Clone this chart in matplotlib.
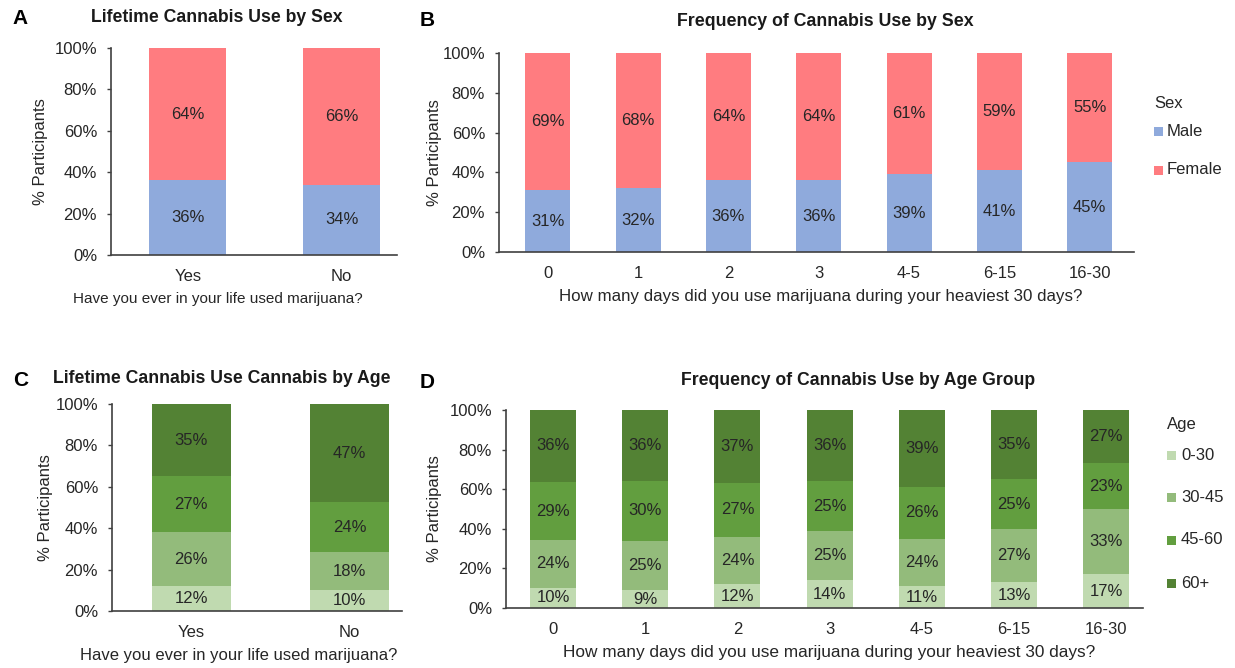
import matplotlib
matplotlib.use("Agg")
import matplotlib.pyplot as plt
from matplotlib.patches import Rectangle
import numpy as np

plt.rcParams['font.family'] = ['Liberation Sans', 'DejaVu Sans']

W, H = 1235, 668

# ---- data ----
lifetime_cats = ["Yes", "No"]
freq_cats = ["0", "1", "2", "3", "4-5", "6-15", "16-30"]

sex_groups = ["Male", "Female"]
sex_colors = ["#8faadc", "#ff7c80"]
lifetime_male = [36, 34]
lifetime_female = [64, 66]
freq_male = [31, 32, 36, 36, 39, 41, 45]
freq_female = [69, 68, 64, 64, 61, 59, 55]

age_groups = ["0-30", "30-45", "45-60", "60+"]
age_colors = ["#c0dab0", "#93bb7b", "#629e3f", "#538234"]
lifetime_age_0_30 = [12, 10]
lifetime_age_30_45 = [26, 18]
lifetime_age_45_60 = [27, 24]
lifetime_age_60p = [35, 47]
freq_age_0_30 = [10, 9, 12, 14, 11, 13, 17]
freq_age_30_45 = [24, 25, 24, 25, 24, 27, 33]
freq_age_45_60 = [29, 30, 27, 25, 26, 25, 23]
freq_age_60p = [36, 36, 37, 36, 39, 35, 27]

yticks = [0, 20, 40, 60, 80, 100]
ytick_labels = ["0%", "20%", "40%", "60%", "80%", "100%"]

FS = 12
TXT = "#262626"
AX = "#404040"

fig = plt.figure(figsize=(W / 100, H / 100), dpi=100)


def add_axes_px(left, top, right, bottom):
    return fig.add_axes([left / W, 1 - bottom / H, (right - left) / W, (bottom - top) / H])


def fig_text(x, y, s, **kw):
    fig.text(x / W, 1 - y / H, s, **kw)


def stacked(ax, cats, series, colors, xlim):
    x = np.arange(len(cats))
    data = np.array(series, dtype=float)
    totals = data.sum(axis=0)
    shares = data / totals * 100.0
    bottom = np.zeros(len(cats))
    for vals, share, col in zip(data, shares, colors):
        ax.bar(x, share, width=0.5, bottom=bottom, color=col, edgecolor="none")
        for xi, b, s, v in zip(x, bottom, share, vals):
            ax.text(xi, b + s / 2, f"{int(v)}%", ha="center", va="center",
                    fontsize=FS, color=TXT)
        bottom += share
    ax.set_xlim(*xlim)
    ax.set_ylim(0, 100)
    ax.set_xticks(x)
    ax.set_xticklabels(cats)
    ax.set_yticks(yticks)
    ax.set_yticklabels(ytick_labels)
    for sp in ("top", "right"):
        ax.spines[sp].set_visible(False)
    for sp in ("left", "bottom"):
        ax.spines[sp].set_color(AX)
        ax.spines[sp].set_linewidth(1.2)
    ax.tick_params(axis="x", length=0, pad=10, labelsize=FS, colors=TXT)
    ax.tick_params(axis="y", length=3, width=1, pad=7, labelsize=FS,
                   colors=AX, labelcolor=TXT)
    ax.set_ylabel("% Participants", fontsize=FS, color=TXT)


def legend_px(x_box, x_text, y_title, ys, title, labels, colors):
    fig_text(x_box, y_title, title, fontsize=FS, color=TXT, va="center", ha="left")
    for y, lab, col in zip(ys, labels, colors):
        fig.patches.append(Rectangle(((x_box) / W, 1 - (y + 4.5) / H), 9 / W, 9 / H,
                                     transform=fig.transFigure, facecolor=col,
                                     edgecolor="none"))
        fig_text(x_text, y, lab, fontsize=FS, color=TXT, va="center", ha="left")


# ---- A ----
axA = add_axes_px(111, 48, 397, 255)
stacked(axA, lifetime_cats, [lifetime_male, lifetime_female], sex_colors, (-0.5, 1.36))
axA.set_xlabel("Have you ever in your life used marijuana?", fontsize=11, color=TXT, labelpad=6)
axA.xaxis.label.set_x(0.374)
axA.yaxis.set_label_coords(-0.22, 0.5)
fig_text(217, 17, "Lifetime Cannabis Use by Sex", fontsize=12.7, weight="bold",
         ha="center", va="center", color="#1a1a1a")
fig_text(20, 18, "A", fontsize=15, weight="bold", ha="center", va="center", color="black")

# ---- B ----
axB = add_axes_px(499, 53, 1134, 252)
stacked(axB, freq_cats, [freq_male, freq_female], sex_colors, (-0.54, 6.49))
axB.set_xlabel("How many days did you use marijuana during your heaviest 30 days?",
               fontsize=12.2, color=TXT, labelpad=6)
axB.xaxis.label.set_x(0.506)
axB.yaxis.set_label_coords(-0.09, 0.5)
fig_text(825, 22, "Frequency of Cannabis Use by Sex", fontsize=12.8, weight="bold",
         ha="center", va="center", color="#1a1a1a")
fig_text(427, 21, "B", fontsize=15, weight="bold", ha="center", va="center", color="black")
legend_px(1154, 1167, 103, [131, 170], "Sex", sex_groups, sex_colors)

# ---- C ----
axC = add_axes_px(112, 404, 402, 611)
stacked(axC, lifetime_cats,
        [lifetime_age_0_30, lifetime_age_30_45, lifetime_age_45_60, lifetime_age_60p],
        age_colors, (-0.5, 1.33))
axC.set_xlabel("Have you ever in your life used marijuana?", fontsize=FS, color=TXT, labelpad=6)
axC.xaxis.label.set_x(0.438)
axC.yaxis.set_label_coords(-0.205, 0.5)
fig_text(222, 379, "Lifetime Cannabis Use Cannabis by Age", fontsize=12.7, weight="bold",
         ha="center", va="center", color="#1a1a1a")
fig_text(21, 381, "C", fontsize=15, weight="bold", ha="center", va="center", color="black")

# ---- D ----
axD = add_axes_px(506, 410, 1143, 608)
stacked(axD, freq_cats,
        [freq_age_0_30, freq_age_30_45, freq_age_45_60, freq_age_60p],
        age_colors, (-0.51, 6.4))
axD.set_xlabel("How many days did you use marijuana during your heaviest 30 days?",
               fontsize=12.4, color=TXT, labelpad=6)
axD.xaxis.label.set_x(0.507)
axD.yaxis.set_label_coords(-0.1, 0.5)
fig_text(858, 380, "Frequency of Cannabis Use by Age Group", fontsize=12.7, weight="bold",
         ha="center", va="center", color="#1a1a1a")
fig_text(427, 383, "D", fontsize=15, weight="bold", ha="center", va="center", color="black")
legend_px(1167, 1181, 425, [455, 497, 540, 583], "Age", age_groups, age_colors)

fig.savefig("out.png", dpi=100, facecolor="white")
